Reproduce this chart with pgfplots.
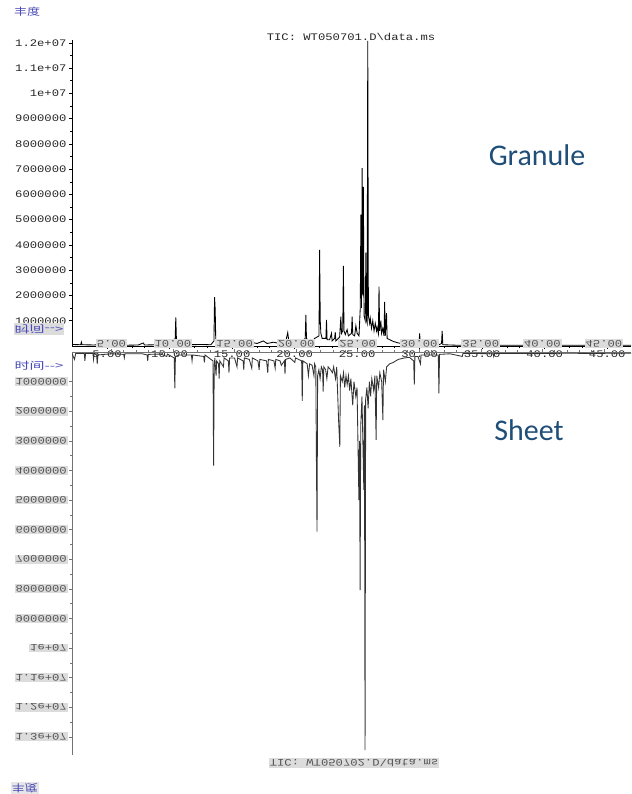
\documentclass[border=0pt]{standalone}
\usepackage{graphicx}
\usepackage{fontspec}
\usepackage{pgfplots}
\usepackage{pgfplotstable}
\pgfplotsset{compat=1.18}
\setmainfont{Liberation Sans}
\newfontfamily\monof[FakeStretch=1.22]{Liberation Mono}
\newfontfamily\cjk{Noto Sans CJK SC}
\newfontfamily\calib{Carlito}
\newcommand\flip[1]{\scalebox{1}[-1]{#1}}
\definecolor{labblue}{HTML}{1F4E79}
\definecolor{cjkblue}{HTML}{4848B8}
\definecolor{lgray}{HTML}{DCDCDC}
\definecolor{tickgray}{HTML}{555555}

\pgfplotstableread{
t I
2.2 0.06
2.9 0.05
2.95 0.15
3.0 0.05
4.0 0.04
4.5 0.08
4.6 0.04
6.0 0.05
6.5 0.03
7.5 0.04
7.9 0.12
8.0 0.04
9.0 0.05
10.0 0.06
10.45 0.3
10.5 1.13
10.55 0.25
10.6 0.08
11.5 0.05
12.5 0.06
13.3 0.05
13.55 0.2
13.6 1.93
13.65 1.45
13.7 0.1
14.5 0.08
15.5 0.12
16.0 0.07
16.5 0.15
17.0 0.1
17.5 0.2
17.8 0.1
18.3 0.15
18.8 0.1
19.3 0.2
19.45 0.53
19.55 0.15
20.2 0.12
20.5 0.15
20.85 0.3
20.9 1.23
20.95 0.3
21.3 0.12
21.6 0.3
21.95 0.4
22.0 3.8
22.05 1.0
22.1 0.5
22.2 0.3
22.5 0.3
22.55 1.03
22.6 0.25
22.8 0.25
22.95 0.5
23.0 0.2
23.2 0.3
23.25 0.55
23.3 0.2
23.6 0.35
23.7 1.16
23.75 0.5
23.85 0.6
23.9 3.17
23.95 0.6
24.05 0.45
24.2 0.65
24.3 0.4
24.55 0.5
24.6 1.16
24.65 0.45
24.8 0.4
24.9 0.8
25.0 0.5
25.15 0.4
25.25 1.5
25.3 5.2
25.35 1.5
25.4 7.04
25.45 2.0
25.5 6.3
25.55 1.2
25.65 1.0
25.7 3.7
25.75 1.0
25.8 0.9
25.85 12.08
25.9 1.2
26.0 0.9
26.05 1.1
26.15 0.7
26.25 1.0
26.35 0.6
26.45 0.9
26.55 0.6
26.6 0.75
26.7 0.5
26.75 2.35
26.8 0.6
26.9 1.0
26.95 0.5
27.05 0.7
27.15 0.4
27.2 1.75
27.25 0.4
27.35 1.3
27.4 0.3
27.6 0.25
27.9 0.18
28.3 0.12
28.8 0.08
29.5 0.06
29.95 0.1
30.0 0.5
30.05 0.08
30.8 0.05
31.5 0.04
31.75 0.1
31.8 0.6
31.85 0.05
33.0 0.03
35.0 0.03
38.0 0.03
41.0 0.03
44.0 0.03
46.9 0.03
}\granule

\pgfplotstableread{
t I
1.8 0.05
2.0 0.25
2.1 0.05
2.8 0.05
2.85 0.3
2.9 0.05
3.5 0.05
3.55 0.25
3.6 0.05
3.8 0.1
3.85 0.4
3.9 0.1
5.0 0.06
6.0 0.08
6.05 0.2
6.1 0.06
7.5 0.06
7.9 0.1
7.95 0.3
8.0 0.08
9.0 0.07
9.5 0.15
9.55 0.07
10.1 0.2
10.15 1.23
10.2 0.15
10.5 0.1
11.5 0.1
11.55 0.3
11.6 0.1
12.5 0.15
12.55 0.35
12.6 0.1
13.25 0.3
13.3 3.84
13.35 0.5
13.4 0.2
13.5 0.8
13.55 0.3
13.7 0.4
13.75 0.9
13.8 0.3
14.1 0.5
14.15 0.2
14.5 0.3
14.55 0.7
14.6 0.2
15.0 0.2
15.2 0.5
15.25 0.2
15.7 0.3
15.75 0.6
15.8 0.2
16.2 0.25
16.4 0.55
16.45 0.2
16.9 0.3
17.0 0.6
17.05 0.25
17.6 0.3
17.7 0.7
17.75 0.25
18.2 0.3
18.3 0.55
18.35 0.25
18.7 0.3
18.8 0.45
19.05 0.3
19.1 0.74
19.15 0.25
19.5 0.2
19.9 0.35
19.95 0.2
20.45 0.3
20.5 1.65
20.55 0.3
20.9 0.4
21.0 0.8
21.1 0.4
21.3 0.45
21.45 0.8
21.5 0.4
21.6 0.5
21.65 3.65
21.7 6.07
21.75 0.8
21.85 0.6
21.95 0.9
22.05 0.5
22.15 0.6
22.2 1.34
22.25 0.5
22.4 0.6
22.5 0.9
22.6 0.5
22.8 0.6
22.95 0.7
23.05 0.5
23.2 0.9
23.3 0.5
23.45 2.3
23.55 3.2
23.6 0.8
23.75 1.0
23.85 0.7
23.95 1.2
24.05 0.8
24.15 1.1
24.25 0.8
24.35 1.3
24.45 0.9
24.6 1.8
24.7 1.0
24.85 1.5
24.95 1.2
25.1 5.0
25.15 3.0
25.2 8.04
25.25 2.5
25.35 1.5
25.5 4.66
25.55 1.8
25.6 13.45
25.65 1.6
25.75 1.2
25.85 1.9
25.95 1.0
26.05 1.5
26.15 0.9
26.3 1.3
26.4 0.8
26.5 2.97
26.55 0.8
26.7 1.2
26.8 0.7
26.95 1.0
27.05 2.3
27.1 0.6
27.25 1.0
27.35 0.5
27.6 0.4
27.9 0.35
28.3 0.25
28.8 0.2
29.2 0.18
29.55 0.3
29.6 1.1
29.65 0.15
29.9 0.15
30.1 0.4
30.15 0.1
30.6 0.1
31.55 0.1
31.6 1.4
31.65 0.08
32.5 0.06
33.5 0.15
33.55 0.05
34.5 0.05
36.0 0.06
36.05 0.15
36.1 0.05
38.0 0.05
40.0 0.05
42.0 0.04
44.0 0.05
46.0 0.04
47.2 0.04
}\sheet

\begin{document}
\begin{tikzpicture}
\path[use as bounding box] (0pt,0pt) rectangle (631pt,-794pt);
\begin{axis}[
  at={(72pt,-346pt)}, anchor=south west,
  scale only axis, width=559pt, height=306pt,
  xmin=2.2, xmax=46.9, ymin=0, ymax=12.11,
  axis y line*=left, axis x line*=bottom,
  axis line style={black, line width=0.7pt, -},
  xtick={5,10,...,45},
  xticklabels={5.00,10.00,15.00,20.00,25.00,30.00,35.00,40.00,45.00},
  ytick={1,2,...,12},
  yticklabels={1000000,2000000,3000000,4000000,5000000,6000000,7000000,8000000,9000000,1e+07,1.1e+07,1.2e+07},
  minor y tick num=1, minor x tick num=4,
  tick align=outside, major tick length=3pt, minor tick length=2pt,
  tick style={black, line width=0.5pt},
  ticklabel style={font=\monof\fontsize{10}{10}\selectfont, text=black!85},
  yticklabel style={xshift=1pt},
  xticklabel style={yshift=2pt},
]
\addplot[black, line width=0.85pt] table[x=t,y=I]{\granule};
\end{axis}
\begin{axis}[
  at={(72pt,-352pt)}, anchor=north west,
  scale only axis, width=559pt, height=402.6pt,
  xmin=1.8, xmax=47.2, ymin=0, ymax=13.6, y dir=reverse,
  axis y line*=left, axis x line*=top,
  axis line style={black!55, line width=0.8pt, -},
  xtick={5,10,...,45},
  xticklabels={\flip{5.00},\flip{10.00},\flip{15.00},\flip{20.00},\flip{25.00},\flip{30.00},\flip{35.00},\flip{40.00},\flip{45.00}},
  ytick={1,2,...,13},
  yticklabels={\flip{1000000},\flip{2000000},\flip{3000000},\flip{4000000},\flip{5000000},\flip{6000000},\flip{7000000},\flip{8000000},\flip{9000000},\flip{1e+07},\flip{1.1e+07},\flip{1.2e+07},\flip{1.3e+07}},
  minor y tick num=1, minor x tick num=4,
  tick align=outside, major tick length=3pt, minor tick length=2pt,
  tick style={black!55, line width=0.5pt},
  ticklabel style={font=\monof\fontsize{10}{10}\selectfont, text=tickgray, fill=lgray, inner sep=1pt},
  yticklabel style={xshift=-1pt},
  xticklabel style={yshift=1pt},
]
\addplot[black!80, line width=0.85pt] table[x=t,y=I]{\sheet};
\end{axis}
\node[font=\monof\fontsize{10}{10}\selectfont, text=black!85] at (351pt,-37pt) {TIC: WT050701.D\textbackslash data.ms};
\node[fill=lgray, inner sep=1pt, font=\monof\fontsize{10}{10}\selectfont, text=tickgray] at (354pt,-763pt) {\flip{TIC: WT050702.D\textbackslash data.ms}};
\node[font=\cjk\fontsize{10}{10}\selectfont, text=cjkblue] at (27pt,-12pt) {\scalebox{1.3}[1]{丰度}};
\node[fill=lgray!70, inner sep=1pt, font=\cjk\fontsize{10}{10}\selectfont, text=cjkblue] at (25pt,-788pt) {\flip{\scalebox{1.3}[1]{丰度}}};
\node[fill=lgray, inner sep=1pt, font=\cjk\fontsize{10}{10}\selectfont, text=cjkblue] at (39pt,-329pt) {\flip{\scalebox{1.5}[1]{时间-{}-{}>}}};
\node[font=\cjk\fontsize{10}{10}\selectfont, text=cjkblue] at (39pt,-366pt) {\scalebox{1.5}[1]{时间-{}-{}>}};
\node[font=\calib\fontsize{30}{30}\selectfont, text=labblue] at (537pt,-155pt) {Granule};
\node[font=\calib\fontsize{30}{30}\selectfont, text=labblue] at (529pt,-430pt) {Sheet};
\end{tikzpicture}
\end{document}
